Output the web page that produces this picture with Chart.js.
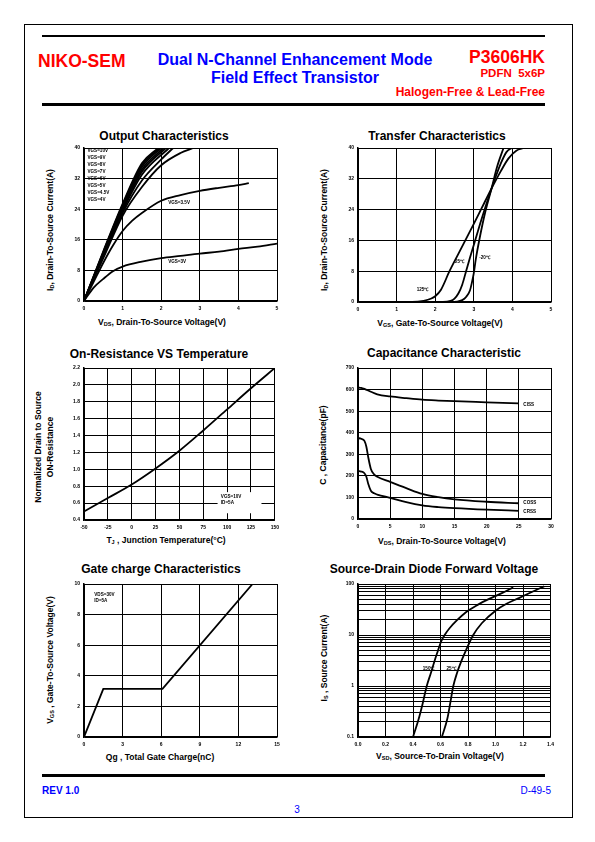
<!DOCTYPE html>
<html>
<head>
<meta charset="utf-8">
<script src="https://cdn.jsdelivr.net/npm/chart.js@4.4.0/dist/chart.umd.min.js"></script>
<style>
body { margin:0; width:595px; height:842px; position:relative; background:#fff; font-family:Arial,"Liberation Sans",sans-serif; overflow:hidden; }
.t { position:absolute; white-space:pre; font-weight:bold; line-height:1; }
.c { transform:translate(-50%,-50%); }
.m { transform:translateY(-50%); }
.ttl { font-size:12px; color:#000; }
.xl { font-size:8.5px; color:#000; }
.yl { font-size:8.5px; color:#000; transform:translate(-50%,-50%) rotate(-90deg); text-align:center; line-height:1.45; }
sub { font-size:65%; vertical-align:-1px; }
.red { color:#f00; }
.blue { color:#00f; }
.bar { position:absolute; background:#000; }
</style>
</head>
<body>
<div style="position:absolute;left:24px;top:24px;width:549px;height:794px;border:1px solid #000;box-sizing:border-box"></div>
<div class="bar" style="left:42px;top:35px;width:503px;height:2px"></div>
<div class="bar" style="left:42px;top:103px;width:503px;height:2.5px"></div>
<div class="bar" style="left:42px;top:774px;width:503px;height:2.5px"></div>

<div class="t m red" style="left:38px;top:62px;font-size:17.5px">NIKO-SEM</div>
<div class="t c blue" style="left:295px;top:60px;font-size:16px">Dual N-Channel Enhancement Mode</div>
<div class="t c blue" style="left:295px;top:78px;font-size:16px">Field Effect Transistor</div>
<div class="t m red" style="right:50px;top:58px;font-size:17.5px">P3606HK</div>
<div class="t m red" style="right:50px;top:74px;font-size:11.5px">PDFN  5x6P</div>
<div class="t m red" style="right:50px;top:92px;font-size:12px">Halogen-Free &amp; Lead-Free</div>

<div class="t m blue" style="left:42px;top:791px;font-size:10px">REV 1.0</div>
<div class="t m blue" style="right:44px;top:791px;font-size:10px;font-weight:normal">D-49-5</div>
<div class="t c blue" style="left:297px;top:810px;font-size:10px;font-weight:normal">3</div>

<!-- titles -->
<div class="t c ttl" style="left:164px;top:136px">Output Characteristics</div>
<div class="t c ttl" style="left:437px;top:136px">Transfer Characteristics</div>
<div class="t c ttl" style="left:159px;top:354px">On-Resistance VS Temperature</div>
<div class="t c ttl" style="left:444px;top:353px">Capacitance Characteristic</div>
<div class="t c ttl" style="left:161px;top:569px">Gate charge Characteristics</div>
<div class="t c ttl" style="left:434px;top:569px">Source-Drain Diode Forward Voltage</div>

<!-- axis titles -->
<div class="t c xl" style="left:162px;top:323px">V<sub>DS</sub>, Drain-To-Source Voltage(V)</div>
<div class="t c xl" style="left:440px;top:324px">V<sub>GS</sub>, Gate-To-Source Voltage(V)</div>
<div class="t c xl" style="left:166px;top:541px">T<sub>J</sub> , Junction Temperature(°C)</div>
<div class="t c xl" style="left:442px;top:542px">V<sub>DS</sub>, Drain-To-Source Voltage(V)</div>
<div class="t c xl" style="left:160px;top:757px">Qg , Total Gate Charge(nC)</div>
<div class="t c xl" style="left:440px;top:757px">V<sub>SD</sub>, Source-To-Drain Voltage(V)</div>

<div class="t yl" style="left:50px;top:230px">I<sub>D</sub>, Drain-To-Source Current(A)</div>
<div class="t yl" style="left:324px;top:230px">I<sub>D</sub>, Drain-To-Source Current(A)</div>
<div class="t yl" style="left:44px;top:447px">Normalized Drain to Source
ON-Resistance</div>
<div class="t yl" style="left:323px;top:445px">C , Capacitance(pF)</div>
<div class="t yl" style="left:50px;top:660px">V<sub>GS</sub> , Gate-To-Source Voltage(V)</div>
<div class="t yl" style="left:324px;top:658px">I<sub>S</sub> , Source Current(A)</div>

<div id="c1"></div><div id="c2"></div><div id="c3"></div>
<div id="c4"></div><div id="c5"></div><div id="c6"></div>

<script>
// ---- Output characteristics (VDS in V, ID in A)
const out3V  = [0, 0.25, 0.5, 0.75, 1, 1.5, 2, 2.5, 3, 3.5, 4, 4.5, 5];
const out3I  = [0, 3.5, 5.8, 7.8, 9, 10.3, 11.2, 11.8, 12.4, 12.9, 13.6, 14.2, 15];
const out35V = [0, 0.25, 0.5, 0.75, 1, 1.25, 1.5, 2, 2.5, 3, 3.5, 4, 4.27];
const out35I = [0, 5, 10, 14.5, 18.3, 21, 23, 26.2, 27.7, 28.8, 29.6, 30.3, 30.8];
const out4V  = [0, 0.25, 0.5, 1, 1.5, 2, 2.5, 2.83];
const out4I  = [0, 5.7, 11.2, 22.3, 29.8, 35.5, 38.7, 40];
const out45V = [0, 0.25, 0.5, 1, 1.5, 2, 2.31];
const out45I = [0, 5.9, 11.7, 23, 31.5, 37, 40];
const out5V  = [0, 0.25, 0.5, 1, 1.5, 2.2];
const out5I  = [0, 6, 12, 23.5, 33, 40];
const out6V  = [0, 0.25, 0.5, 1, 1.5, 2.12];
const out6I  = [0, 6.1, 12.2, 24, 33.8, 40];
const out7V  = [0, 0.25, 0.5, 1, 1.5, 2.06];
const out7I  = [0, 6.2, 12.4, 24.4, 34.4, 40];
const out8V  = [0, 0.25, 0.5, 1, 1.5, 2.0];
const out8I  = [0, 6.3, 12.6, 24.8, 35, 40];
const out9V  = [0, 0.25, 0.5, 1, 1.5, 1.96];
const out9I  = [0, 6.4, 12.8, 25.1, 35.5, 40];
const out10V = [0, 0.25, 0.5, 1, 1.5, 1.92];
const out10I = [0, 6.5, 13, 25.4, 36, 40];
const outLabels = ['VGS=10V', 'VGS=9V', 'VGS=8V', 'VGS=7V', 'VGS=6V', 'VGS=5V', 'VGS=4.5V', 'VGS=4V'];

// ---- Transfer characteristics (VGS in V, ID in A)
const tr125V = [0, 1.4, 1.7, 1.9, 2.0, 2.15, 2.37, 2.6, 2.8, 3.0, 3.2, 3.46, 3.7, 3.9, 4.1, 4.3];
const tr125I = [0, 0, 0.3, 0.9, 1.5, 3.2, 8, 12.5, 16.4, 20.3, 24.3, 29.5, 34, 37.3, 39.3, 40];
const tr25V  = [0, 2.2, 2.4, 2.5, 2.6, 2.7, 2.8, 2.9, 3.0, 3.2, 3.46, 3.7, 3.85, 3.98];
const tr25I  = [0, 0, 0.3, 0.9, 2.2, 4.5, 8, 11.5, 14.8, 21.5, 29.5, 36, 39, 40];
const trM20V = [0, 2.4, 2.7, 2.8, 2.9, 2.95, 3.0, 3.05, 3.15, 3.3, 3.46, 3.6, 3.77];
const trM20I = [0, 0, 0.5, 1.3, 3, 5, 7.5, 11, 16.5, 23.5, 29.5, 35, 40];

// ---- On-resistance vs temperature
const rTemp = [-50, -25, 0, 25, 50, 75, 100, 125, 150];
const rNorm = [0.5, 0.66, 0.82, 1.01, 1.22, 1.46, 1.71, 1.96, 2.2];

// ---- Capacitance (VDS in V, C in pF)
const cissV = [0, 0.5, 1, 2, 3, 5, 7.5, 10, 12.5, 15, 20, 25];
const cissC = [610, 608, 603, 590, 578, 568, 560, 553, 549, 546, 541, 536];
const cossV = [0, 0.5, 1, 1.3, 1.6, 2, 2.5, 3, 5, 7.5, 10, 12.5, 15, 20, 25];
const cossC = [375, 372, 362, 335, 285, 232, 207, 196, 172, 143, 116, 101, 91, 80, 73];
const crssV = [0, 0.5, 1, 1.3, 1.6, 2, 2.5, 3, 5, 7.5, 10, 12.5, 15, 20, 25];
const crssC = [222, 220, 212, 196, 162, 131, 119, 113, 98, 78, 63, 55, 50, 43, 38];

// ---- Gate charge (Qg in nC, VGS in V)
const gateQ = [0, 1.5, 6.1, 13.1];
const gateV = [0, 3.15, 3.15, 10];

// ---- Source-drain diode (VSD in V, IS in A)
const d150V = [0.40, 0.44, 0.47, 0.50, 0.53, 0.555, 0.58, 0.603, 0.63, 0.664, 0.72, 0.785, 0.87, 0.954, 1.05, 1.129];
const d150I = [0.1, 0.22, 0.45, 1.0, 1.8, 3.0, 4.8, 7.3, 10, 13.4, 19.5, 28, 39, 51, 67, 86];
const d25V  = [0.61, 0.65, 0.67, 0.693, 0.72, 0.75, 0.785, 0.838, 0.9, 1.0, 1.08, 1.17, 1.26, 1.354];
const d25I  = [0.1, 0.23, 0.45, 1.0, 1.8, 3.0, 5.0, 10, 17, 30, 41, 53, 69, 90];
const diodeTicks = [0.1, 0.2, 0.3, 0.4, 0.5, 0.6, 0.7, 0.8, 0.9,
                    1, 2, 3, 4, 5, 6, 7, 8, 9,
                    10, 20, 30, 40, 50, 60, 70, 80, 90, 100];
const diodeLabels = [0.1, 1, 10, 100];

const FONT = { family: 'Arial, "Liberation Sans", sans-serif', size: 5, weight: 'bold' };

// writes small labels inside the plot, placed in data units
const textPlugin = {
  id: 'texts',
  afterDatasetsDraw(chart, args, opts) {
    const ctx = chart.ctx, xs = chart.scales.x, ys = chart.scales.y;
    ctx.save();
    (opts.items || []).forEach(t => {
      if (t.box) {
        const x0 = xs.getPixelForValue(t.box[0]), x1 = xs.getPixelForValue(t.box[1]);
        const y0 = ys.getPixelForValue(t.box[2]), y1 = ys.getPixelForValue(t.box[3]);
        ctx.fillStyle = '#fff';
        ctx.fillRect(x0, y1, x1 - x0, y0 - y1);
        return;
      }
      ctx.font = 'bold ' + (t.size || 5) + 'px Arial, "Liberation Sans", sans-serif';
      ctx.fillStyle = '#000';
      ctx.textAlign = 'left';
      ctx.textBaseline = 'middle';
      ctx.fillText(t.text, xs.getPixelForValue(t.x), ys.getPixelForValue(t.y));
    });
    ctx.restore();
  }
};

function axis(min, max, step, isY, fmt) {
  return {
    type: 'linear', min: min, max: max,
    grid: { color: '#000', lineWidth: 1, drawTicks: false },
    border: { color: '#000', width: 1.5 },
    ticks: { stepSize: step, font: FONT, color: '#000', padding: isY ? 4 : 5,
             autoSkip: false, maxRotation: 0, callback: fmt || (v => v) },
    afterFit(s) { if (isY) s.width = 30; else s.height = 16; }
  };
}

function curve(xs, ys, straight) {
  return {
    data: xs.map((x, i) => ({ x: x, y: ys[i] })),
    borderColor: '#000', borderWidth: 1.8, pointRadius: 0, fill: false,
    tension: straight ? 0 : 0.4,
    cubicInterpolationMode: straight ? 'default' : 'monotone'
  };
}

function mkChart(id, p, datasets, sx, sy, texts) {
  const wrap = document.getElementById(id);
  const W = p.r - p.l + 38, H = p.b - p.t + 22;
  wrap.style.cssText = 'position:absolute;left:' + (p.l - 30) + 'px;top:' + (p.t - 6) +
    'px;width:' + W + 'px;height:' + H + 'px';
  const c = document.createElement('canvas');
  c.width = W; c.height = H;
  c.style.width = W + 'px'; c.style.height = H + 'px';
  wrap.appendChild(c);
  return new Chart(c, {
    type: 'line',
    data: { datasets: datasets },
    options: {
      responsive: false, animation: false, devicePixelRatio: 1,
      layout: { padding: { top: 6, right: 8, left: 0, bottom: 0 } },
      plugins: { legend: { display: false }, tooltip: { enabled: false }, texts: { items: texts } },
      scales: { x: sx, y: sy }
    },
    plugins: [textPlugin]
  });
}

// 1. output characteristics
mkChart('c1', { l: 84, r: 277, t: 147, b: 301 }, [
  curve(out10V, out10I), curve(out9V, out9I), curve(out8V, out8I), curve(out7V, out7I),
  curve(out6V, out6I), curve(out5V, out5I), curve(out45V, out45I), curve(out4V, out4I),
  curve(out35V, out35I), curve(out3V, out3I)
], axis(0, 5, 1, false), axis(0, 40, 8, true),
  outLabels.map((s, i) => ({ text: s, x: 0.09, y: 39.2 - i * 1.8, size: 4.6 }))
    .concat([{ text: 'VGS=3.5V', x: 2.18, y: 25.8, size: 4.6 }, { text: 'VGS=3V', x: 2.18, y: 10.2, size: 4.6 }]));

// 2. transfer characteristics
mkChart('c2', { l: 358, r: 551, t: 147, b: 302 }, [
  curve(tr125V, tr125I), curve(tr25V, tr25I), curve(trM20V, trM20I)
], axis(0, 5, 1, false), axis(0, 40, 8, true), [
  { text: '125℃', x: 1.52, y: 3.3, size: 4.6 },
  { text: '25℃', x: 2.51, y: 10.4, size: 4.6 },
  { text: '-20℃', x: 3.14, y: 11.6, size: 4.6 }
]);

// 3. on-resistance vs temperature
mkChart('c3', { l: 84, r: 276, t: 367, b: 520 }, [
  curve(rTemp, rNorm)
], axis(-50, 150, 25, false), axis(0.4, 2.2, 0.2, true, v => v.toFixed(1)), [
  { box: [90, 136, 0.48, 0.73] },
  { text: 'VGS=10V', x: 93.4, y: 0.68, size: 4.6 },
  { text: 'ID=5A', x: 93.4, y: 0.6, size: 4.6 }
]);

// 4. capacitance
mkChart('c4', { l: 358, r: 551, t: 367, b: 519 }, [
  curve(cissV, cissC), curve(cossV, cossC), curve(crssV, crssC)
], axis(0, 30, 5, false), axis(0, 700, 100, true), [
  { text: 'CISS', x: 25.7, y: 530, size: 4.6 },
  { text: 'COSS', x: 25.7, y: 77, size: 4.6 },
  { text: 'CRSS', x: 25.7, y: 32, size: 4.6 }
]);

// 5. gate charge
mkChart('c5', { l: 84, r: 277, t: 583, b: 737 }, [
  curve(gateQ, gateV, true)
], axis(0, 15, 3, false), axis(0, 10, 2, true), [
  { text: 'VDS=30V', x: 0.8, y: 9.29, size: 4.6 },
  { text: 'ID=5A', x: 0.8, y: 8.9, size: 4.6 }
]);

// 6. source-drain diode forward voltage (log y)
const logY = axis(0.1, 100, 1, true, v => diodeLabels.includes(v) ? String(v) : '');
logY.type = 'logarithmic';
delete logY.ticks.stepSize;
logY.afterBuildTicks = s => { s.ticks = diodeTicks.map(v => ({ value: v })); };
mkChart('c6', { l: 358, r: 551, t: 583, b: 737 }, [
  curve(d150V, d150I), curve(d25V, d25I)
], axis(0, 1.4, 0.2, false, v => v.toFixed(1)), logY, [
  { text: '150℃', x: 0.471, y: 2.2, size: 4.6 },
  { text: '25℃', x: 0.643, y: 2.2, size: 4.6 }
]);
</script>
</body>
</html>
